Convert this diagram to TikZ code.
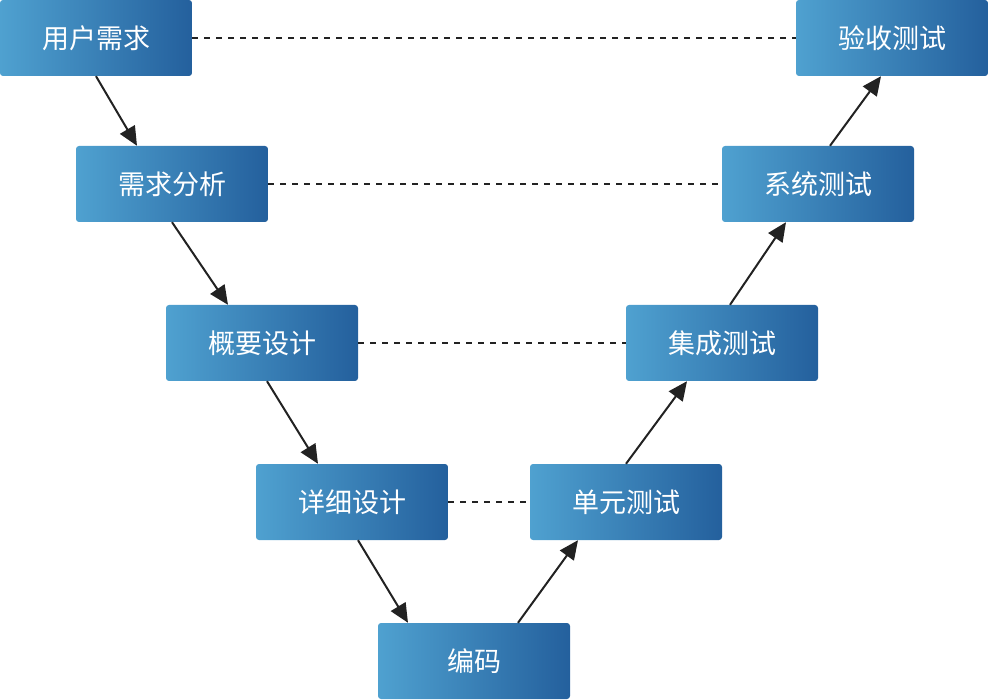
\documentclass[tikz,border=0pt]{standalone}
\usepackage{fontspec}
\newfontfamily\cjk{Noto Sans CJK SC}
\usetikzlibrary{arrows.meta}
\definecolor{boxL}{HTML}{4FA1D0}
\definecolor{boxR}{HTML}{24609D}
\definecolor{lineC}{HTML}{222222}
\tikzset{
  vbox/.style={minimum width=192pt, minimum height=76pt, inner sep=0pt,
    rounded corners=3pt, left color=boxL, right color=boxR, text=white,
    font=\cjk\fontsize{27}{32}\selectfont},
  arr/.style={draw=lineC, line width=2pt, -{Triangle[length=19pt,width=17pt]}},
  dsh/.style={draw=lineC, line width=1.7pt, dash pattern=on 6pt off 6pt}
}
\begin{document}
\begin{tikzpicture}[x=1pt,y=-1pt]
\useasboundingbox (0,0) rectangle (988,700);
\node[vbox] (a) at (96,38) {用户需求};
\node[vbox] (b) at (172,184) {需求分析};
\node[vbox] (c) at (262,343) {概要设计};
\node[vbox] (d) at (352,502) {详细设计};
\node[vbox] (e) at (474,661) {编码};
\node[vbox] (f) at (626,502) {单元测试};
\node[vbox] (g) at (722,343) {集成测试};
\node[vbox] (h) at (818,184) {系统测试};
\node[vbox] (i) at (892,38) {验收测试};
\draw[dsh] (a.east) -- (i.west);
\draw[dsh] (b.east) -- (h.west);
\draw[dsh] (c.east) -- (g.west);
\draw[dsh] (d.east) -- (f.west);
\draw[arr] (a.south) -- ([xshift=-35pt]b.north);
\draw[arr] (b.south) -- ([xshift=-34pt]c.north);
\draw[arr] ([xshift=5pt]c.south) -- ([xshift=-34pt]d.north);
\draw[arr] ([xshift=6pt]d.south) -- ([xshift=-66pt]e.north);
\draw[arr] ([xshift=44pt]e.north) -- ([xshift=-48pt]f.south);
\draw[arr] (f.north) -- ([xshift=-35pt]g.south);
\draw[arr] ([xshift=8pt]g.north) -- ([xshift=-32pt]h.south);
\draw[arr] ([xshift=12pt]h.north) -- ([xshift=-11pt]i.south);
\end{tikzpicture}
\end{document}
